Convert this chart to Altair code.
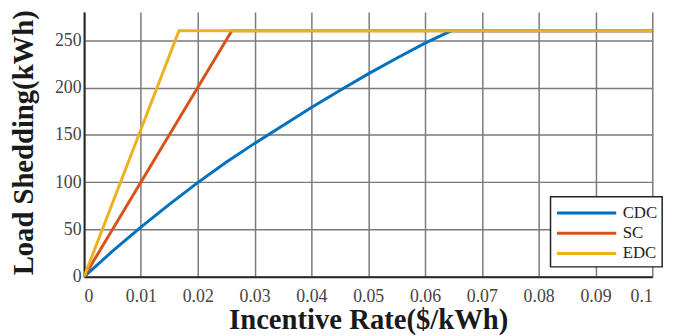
import altair as alt
import pandas as pd

# Data
cdc_x = [0, 0.005, 0.01, 0.015, 0.02, 0.025, 0.03, 0.035, 0.04, 0.045, 0.05, 0.055, 0.06, 0.0646, 0.1]
cdc_y = [0, 27, 52.5, 76.5, 99.5, 121, 141, 160, 179, 197, 214.5, 231, 247, 260, 260]
sc_x = [0, 0.026, 0.1]
sc_y = [0, 260, 260]
edc_x = [0, 0.0167, 0.1]
edc_y = [0, 260, 260]

series = ["CDC", "SC", "EDC"]
colors = ["#0072BD", "#D95319", "#EDB120"]
x_ticks = [0, 0.01, 0.02, 0.03, 0.04, 0.05, 0.06, 0.07, 0.08, 0.09, 0.1]
y_ticks = [0, 50, 100, 150, 200, 250]

rows = []
for name, xs, ys in [("CDC", cdc_x, cdc_y), ("SC", sc_x, sc_y), ("EDC", edc_x, edc_y)]:
    for i, (a, b) in enumerate(zip(xs, ys)):
        rows.append({"series": name, "x": a, "y": b, "i": i})
df = pd.DataFrame(rows)

FONT = "Times New Roman, Liberation Serif, Times, serif"

color = alt.Color(
    "series:N",
    scale=alt.Scale(domain=series, range=colors),
    legend=alt.Legend(
        title=None,
        orient="none",
        legendX=472,
        legendY=187,
        symbolType="M-1,0H5",
        symbolSize=400,
        symbolStrokeWidth=3,
        labelOffset=45,
        rowPadding=0.5,
        padding=5,
        fillColor="white",
        strokeColor="#222222",
        labelFont=FONT,
        labelFontSize=17,
        labelColor="#222222",
    ),
)

xenc = alt.X(
    "x:Q",
    scale=alt.Scale(domain=[0, 0.1], nice=False),
    axis=alt.Axis(
        values=x_ticks,
        format="~g",
        title="Incentive Rate($/kWh)",
        titleFont=FONT,
        titleFontSize=29,
        titleFontWeight="bold",
        titleColor="#1a1a1a",
        titleBaseline="alphabetic",
        titleX=287.5,
        titleY=52,
        labelFont=FONT,
        labelFontSize=18,
        labelColor="#444444",
        labelPadding=11,
        ticks=False,
        grid=True,
        gridColor="#7a7a7a",
        gridWidth=1.5,
        domainColor="#262626",
        domainWidth=2,
    ),
)
yenc = alt.Y(
    "y:Q",
    scale=alt.Scale(domain=[0, 280], nice=False),
    axis=alt.Axis(
        values=y_ticks,
        title="Load Shedding(kWh)",
        titleFont=FONT,
        titleFontSize=29,
        titleFontWeight="bold",
        titleColor="#1a1a1a",
        titleBaseline="alphabetic",
        titleAngle=270,
        titleX=-52,
        titleY=132,
        labelFont=FONT,
        labelFontSize=18,
        labelColor="#444444",
        labelPadding=3,
        ticks=False,
        grid=True,
        gridColor="#7a7a7a",
        gridWidth=1.5,
        domainColor="#262626",
        domainWidth=2,
    ),
)

layers = []
for s in series:
    layers.append(
        alt.Chart(df)
        .transform_filter(alt.datum.series == s)
        .mark_line(strokeWidth=3, clip=True)
        .encode(x=xenc, y=yenc, color=color, order="i:Q")
    )

chart = (
    alt.layer(*layers)
    .properties(
        width=575,
        height=268,
        autosize=alt.AutoSizeParams(type="none"),
        padding={"left": 77, "top": 2, "right": 26, "bottom": 58},
    )
    .configure_view(stroke=None)
    .configure_legend(strokeWidth=1.5)
)

chart.save("out.html", embed_options={"renderer": "svg", "actions": False})
